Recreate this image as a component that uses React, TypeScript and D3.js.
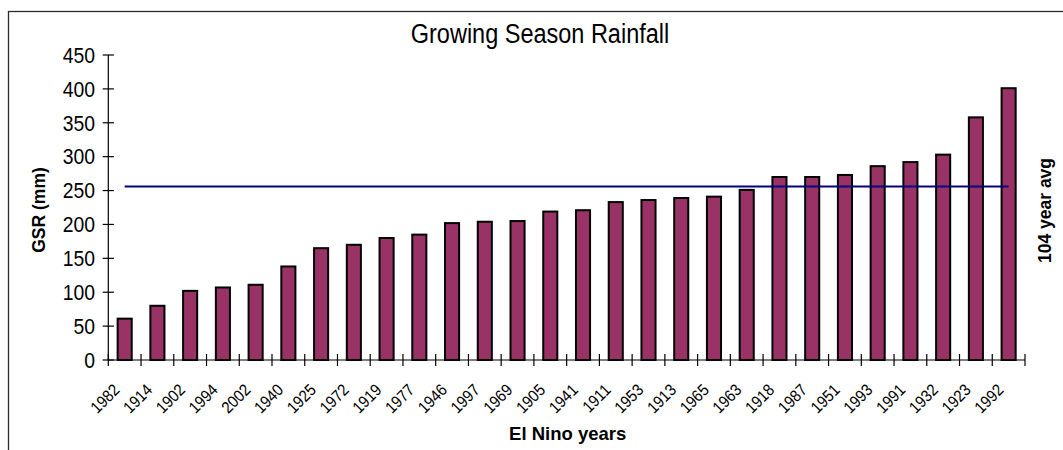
import React from "react";
import * as d3 from "d3";

// El Nino years, sorted by growing season rainfall
const years: string[] = [
  "1982", "1914", "1902", "1994", "2002", "1940", "1925", "1972", "1919", "1977",
  "1946", "1997", "1969", "1905", "1941", "1911", "1953", "1913", "1965", "1963",
  "1918", "1987", "1951", "1993", "1991", "1932", "1923", "1992",
];
// Growing season rainfall (mm) for each year above
const gsr: number[] = [
  61, 80, 102, 107, 111, 138, 165, 170, 180, 185,
  202, 204, 205, 219, 221, 233, 236, 239, 241, 251,
  270, 270, 273, 286, 292, 303, 358, 401,
];
// Long-term (104 year) average rainfall
const longTermAvg = 256;
const yTicks: number[] = [0, 50, 100, 150, 200, 250, 300, 350, 400, 450];

const W = 1063;
const H = 450;
const plot = { left: 108.3, right: 1025, top: 55, bottom: 360 };
const FONT = "'Liberation Sans', Arial, Helvetica, sans-serif";

export default function App() {
  const x = d3
    .scaleBand<string>()
    .domain(years)
    .range([plot.left, plot.right])
    .paddingInner(0.57)
    .paddingOuter(0.285);
  const y = d3.scaleLinear().domain([0, 450]).range([plot.bottom, plot.top]);
  const step = x.step();
  const half = (d: string) => (x(d) as number) + x.bandwidth() / 2;

  const avgLine = d3.line<number>()([
    [half(years[0]), y(longTermAvg)],
    [half(years[years.length - 1]), y(longTermAvg)],
  ] as any);

  return (
    <svg
      width={W}
      height={H}
      style={{ position: "absolute", left: 0, top: 0, background: "#fff" }}
      fontFamily={FONT}
    >
      <rect x={0} y={0} width={W} height={H} fill="#fff" />
      {/* chart frame */}
      <rect x={8.5} y={11.5} width={1075} height={460} fill="none" stroke="#2b2b2b" strokeWidth={1.3} />

      {/* title */}
      <text
        transform={`translate(540,42.5) scale(0.87,1)`}
        textAnchor="middle"
        fontSize={27}
        fill="#000"
      >
        Growing Season Rainfall
      </text>

      {/* y axis */}
      <line x1={plot.left} x2={plot.left} y1={y(450)} y2={y(0)} stroke="#000" strokeWidth={1.2} />
      {yTicks.map((t) => (
        <g key={t}>
          <line x1={plot.left - 5.6} x2={plot.left + 5.6} y1={y(t)} y2={y(t)} stroke="#000" strokeWidth={1.2} />
          <text
            transform={`translate(95,${y(t) + 7.8}) scale(0.9,1)`}
            textAnchor="end"
            fontSize={21.5}
            fill="#000"
          >
            {t}
          </text>
        </g>
      ))}

      {/* bars */}
      {years.map((yr, i) => (
        <rect
          key={yr + i}
          x={x(yr) as number}
          y={y(gsr[i])}
          width={x.bandwidth()}
          height={y(0) - y(gsr[i])}
          fill="#993366"
          stroke="#000"
          strokeWidth={2}
        />
      ))}

      {/* x axis */}
      <line x1={plot.left} x2={plot.right} y1={y(0)} y2={y(0)} stroke="#000" strokeWidth={1.2} />
      {d3.range(years.length + 1).map((i) => {
        const tx = plot.left + i * step;
        return <line key={i} x1={tx} x2={tx} y1={y(0) - 6} y2={y(0) + 6} stroke="#000" strokeWidth={1.2} />;
      })}
      {years.map((yr) => (
        <text
          key={"l" + yr}
          transform={`translate(${half(yr) - 4},391) rotate(-45) scale(0.9,1)`}
          textAnchor="end"
          fontSize={16.5}
          fill="#000"
        >
          {yr}
        </text>
      ))}

      {/* long-term average */}
      <path d={avgLine as string} stroke="#000080" strokeWidth={2} fill="none" />

      {/* axis titles */}
      <text
        transform={`translate(45,210) rotate(-90)`}
        textAnchor="middle"
        fontSize={17.5}
        fontWeight="bold"
        fill="#000"
      >
        GSR (mm)
      </text>
      <text
        transform={`translate(1050.5,210.5) rotate(-90)`}
        textAnchor="middle"
        fontSize={17.5}
        fontWeight="bold"
        fill="#000"
      >
        104 year avg
      </text>
      <text x={567.7} y={440} textAnchor="middle" fontSize={18.5} fontWeight="bold" fill="#000">
        El Nino years
      </text>
    </svg>
  );
}
